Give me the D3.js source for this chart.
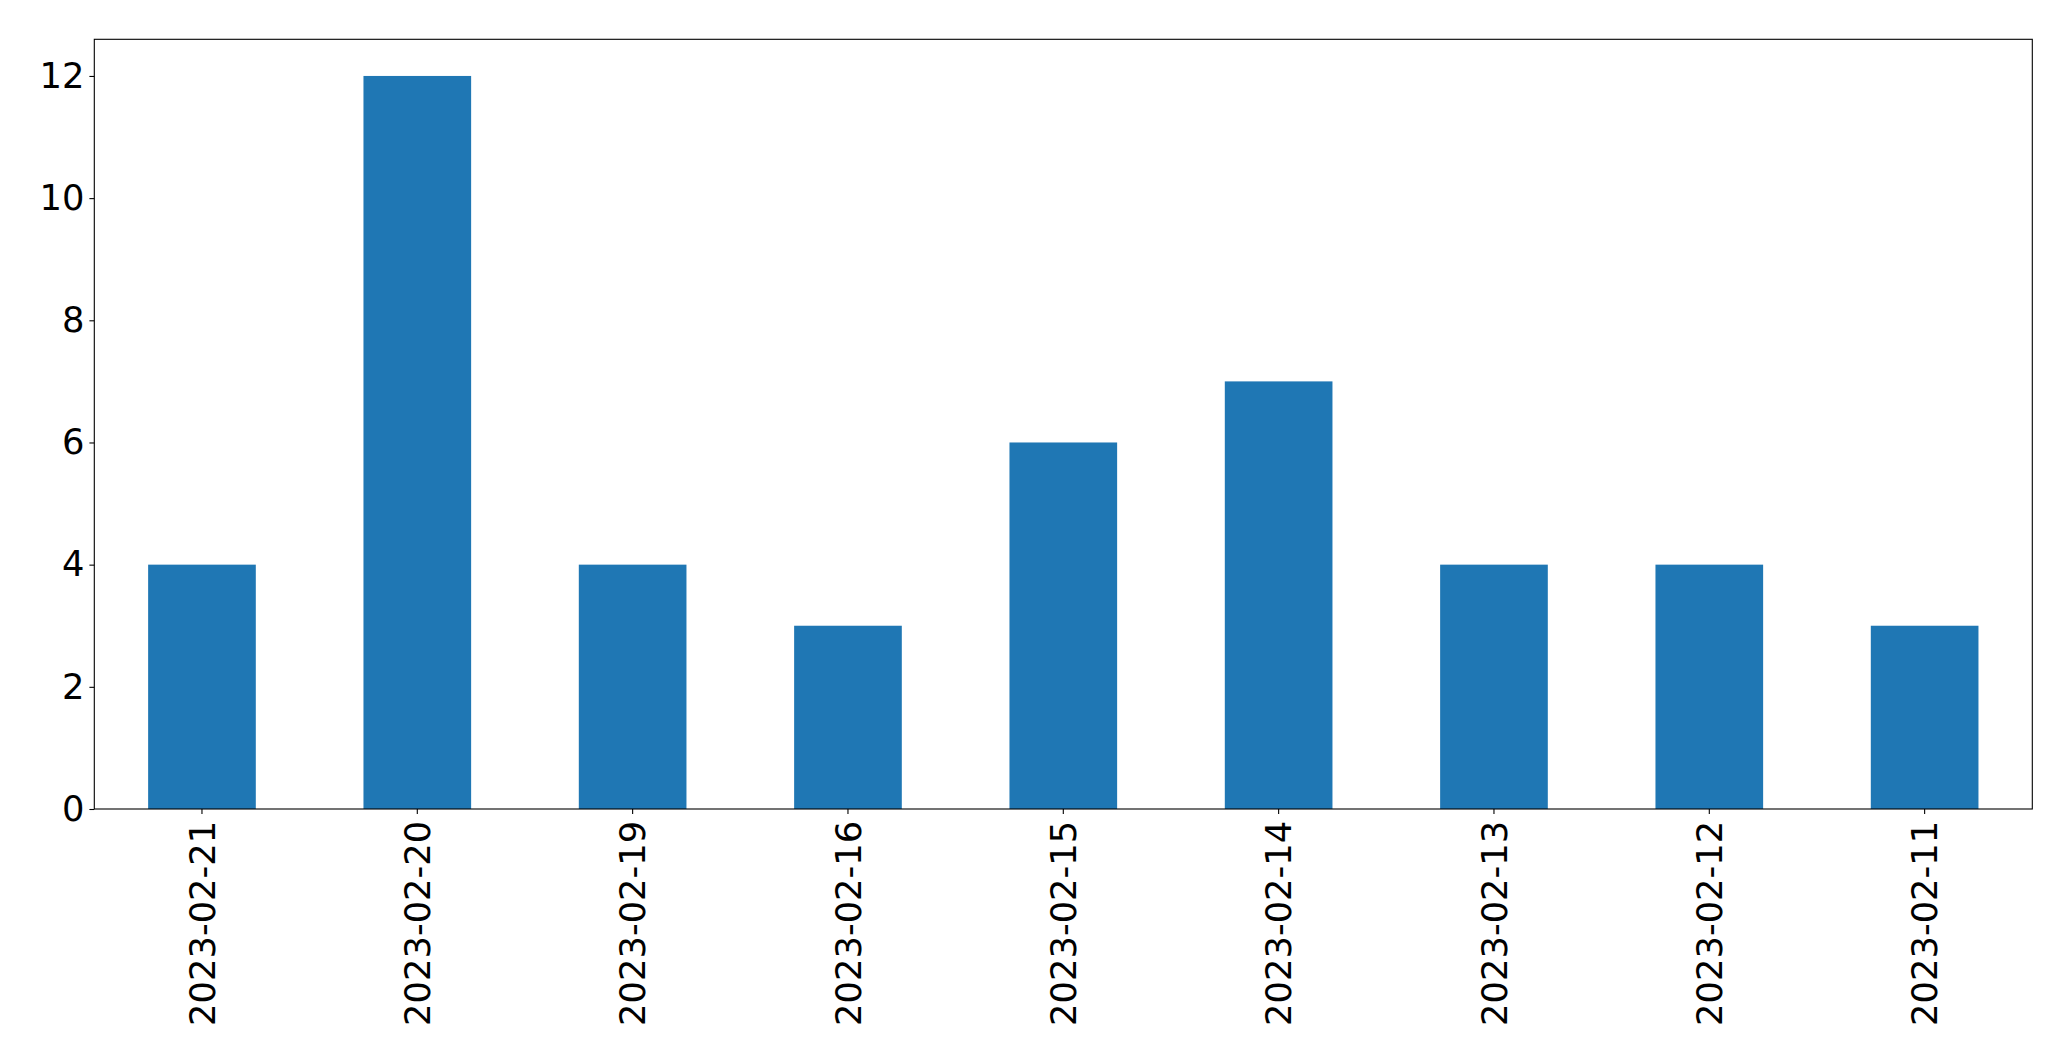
<!DOCTYPE html>
<html>
<head>
<meta charset="utf-8">
<script src="https://cdn.jsdelivr.net/npm/d3@7"></script>
<style>
  html, body { margin: 0; padding: 0; background: #fff; }
  svg { display: block; }
  text { font-family: "DejaVu Sans", sans-serif; }
</style>
</head>
<body>
<script>
const categories = ["2023-02-21", "2023-02-20", "2023-02-19", "2023-02-16", "2023-02-15", "2023-02-14", "2023-02-13", "2023-02-12", "2023-02-11"];
const values = [4, 12, 4, 3, 6, 7, 4, 4, 3];
const yTicks = [0, 2, 4, 6, 8, 10, 12];

const W = 2071, H = 1061;
const margin = { left: 94.3, right: W - 2032.3, top: 39.3, bottom: H - 809 };
const fontSize = 35.3;
const tickLen = 4.9, tickPad = 4.9;

const svg = d3.select("body").append("svg").attr("width", W).attr("height", H);

const x = d3.scaleBand().domain(categories)
  .range([margin.left, W - margin.right])
  .paddingInner(0.5).paddingOuter(0.25);
const y = d3.scaleLinear().domain([0, 12.6]).range([H - margin.bottom, margin.top]);

svg.append("g").selectAll("rect").data(values).join("rect")
  .attr("x", (d, i) => x(categories[i]))
  .attr("y", d => y(d))
  .attr("width", x.bandwidth())
  .attr("height", d => y(0) - y(d))
  .attr("fill", "#1f77b4");

// Y axis
const yAxis = d3.axisLeft(y).tickValues(yTicks).tickFormat(d3.format("d"))
  .tickSize(tickLen).tickPadding(tickPad);
const gy = svg.append("g").attr("transform", `translate(${margin.left},0)`).call(yAxis);
gy.select(".domain").remove();
gy.selectAll("line").attr("stroke", "#000").attr("stroke-width", 1.1);
gy.selectAll("text").attr("font-size", fontSize).attr("fill", "#000")
  .style("font-family", "'DejaVu Sans', sans-serif");

// X axis
const xAxis = d3.axisBottom(x).tickSize(tickLen).tickPadding(tickPad);
const gx = svg.append("g").attr("transform", `translate(0,${H - margin.bottom})`).call(xAxis);
gx.select(".domain").remove();
gx.selectAll("line").attr("stroke", "#000").attr("stroke-width", 1.1);
gx.selectAll("text")
  .attr("font-size", fontSize).attr("fill", "#000")
  .style("font-family", "'DejaVu Sans', sans-serif")
  .attr("text-anchor", "end")
  .attr("transform", `rotate(-90)`)
  .attr("x", -(tickLen + tickPad + 2))
  .attr("y", 0)
  .attr("dy", "0.36em");

// Frame
svg.append("rect")
  .attr("x", margin.left).attr("y", margin.top)
  .attr("width", W - margin.left - margin.right)
  .attr("height", H - margin.top - margin.bottom)
  .attr("fill", "none").attr("stroke", "#000").attr("stroke-width", 1.1);
</script>
</body>
</html>
